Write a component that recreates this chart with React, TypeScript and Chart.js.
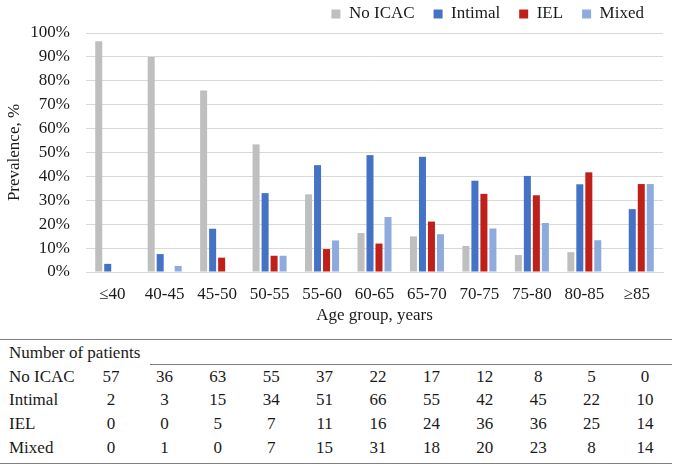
import React, { useEffect, useRef } from "react";
import { Chart, registerables } from "chart.js";

Chart.register(...registerables);

const categories = ["≤40", "40-45", "45-50", "50-55", "55-60", "60-65", "65-70", "70-75", "75-80", "80-85", "≥85"];
const seriesNames = ["No ICAC", "Intimal", "IEL", "Mixed"];
const noIcacPct = [96.6, 90.0, 75.9, 53.4, 32.5, 16.3, 14.9, 10.9, 7.1, 8.3, 0];
const intimalPct = [3.4, 7.5, 18.1, 33.0, 44.7, 48.9, 48.2, 38.2, 40.2, 36.7, 26.3];
const ielPct = [0, 0, 6.0, 6.8, 9.6, 11.9, 21.1, 32.7, 32.1, 41.7, 36.8];
const mixedPct = [0, 2.5, 0, 6.8, 13.2, 23.0, 15.8, 18.2, 20.5, 13.3, 36.8];

const noIcacCount = [57, 36, 63, 55, 37, 22, 17, 12, 8, 5, 0];
const intimalCount = [2, 3, 15, 34, 51, 66, 55, 42, 45, 22, 10];
const ielCount = [0, 0, 5, 7, 11, 16, 24, 36, 36, 25, 14];
const mixedCount = [0, 1, 0, 7, 15, 31, 18, 20, 23, 8, 14];

const tableTitle = "Number of patients";
const yTitle = "Prevalence, %";
const xTitle = "Age group, years";

const colors = ["#bfbfbf", "#4472c4", "#c0201a", "#8faadc"];
const FONT = "'Liberation Serif', Tinos, 'Times New Roman', 'DejaVu Serif', serif";
const TEXT = "#1a1a1a";

export default function App() {
  const ref = useRef<HTMLCanvasElement | null>(null);

  useEffect(() => {
    if (!ref.current) return;
    const values = [noIcacPct, intimalPct, ielPct, mixedPct];
    const legendPlugin = {
      id: "legendTweak",
      beforeInit(chart: any) {
        const lg = chart.legend;
        if (lg) {
          const orig = lg.fit;
          lg.fit = function () {
            orig.call(this);
            this.height = 33;
          };
        }
      },
      afterLayout(chart: any) {
        if (chart.legend) {
          chart.legend.top = -13.5;
        }
      },
    };
    const chart = new Chart(ref.current, {
      type: "bar",
      data: {
        labels: categories,
        datasets: seriesNames.map((n, i) => ({
          label: n,
          data: values[i],
          backgroundColor: colors[i],
          borderWidth: 0,
          categoryPercentage: 0.686,
          barPercentage: 0.78,
        })),
      },
      options: {
        responsive: false,
        animation: false,
        layout: { padding: { left: 0, right: 13, top: 0, bottom: 0 } },
        plugins: {
          legend: {
            position: "top",
            align: "end",
            labels: {
              boxWidth: 9,
              boxHeight: 9,
              padding: 19,
              color: TEXT,
              font: { family: FONT, size: 17 },
            },
          },
          tooltip: { enabled: false },
        },
        scales: {
          x: {
            grid: { display: false, drawTicks: false },
            border: { display: true, color: "#d9d9d9" },
            ticks: { color: TEXT, font: { family: FONT, size: 17 }, padding: 12, maxRotation: 0 },
            title: { display: true, text: xTitle, color: TEXT, font: { family: FONT, size: 17 }, padding: { top: 2, bottom: 4 } },
            afterFit(scale: any) {
              scale.height = 58;
            },
          },
          y: {
            min: 0,
            max: 100,
            grid: { color: "#d9d9d9", drawTicks: false },
            border: { display: false },
            ticks: {
              stepSize: 10,
              color: TEXT,
              font: { family: FONT, size: 17 },
              padding: 16,
              callback: (v: any) => v + "%",
            },
            title: { display: true, text: yTitle, color: TEXT, font: { family: FONT, size: 17 }, padding: { top: 4, bottom: 4 } },
            afterFit(scale: any) {
              scale.width = 86;
            },
          },
        },
      },
      plugins: [legendPlugin],
    });
    return () => chart.destroy();
  }, []);

  const rows: [string, number[]][] = [
    [seriesNames[0], noIcacCount],
    [seriesNames[1], intimalCount],
    [seriesNames[2], ielCount],
    [seriesNames[3], mixedCount],
  ];

  const rowY = (i: number) => 353 + i * 23.7;
  const colX = (j: number) => 111 + j * 53.4;

  return (
    <div
      style={{
        position: "absolute",
        left: 0,
        top: 0,
        width: 676,
        height: 468,
        background: "#fff",
        fontFamily: FONT,
        color: TEXT,
        fontSize: 17,
        overflow: "hidden",
      }}
    >
      <canvas ref={ref} width={676} height={330} style={{ position: "absolute", left: 0, top: 0 }} />
      <div style={{ position: "absolute", left: 0, top: 339, width: 672, height: 1, background: "#808080" }} />
      <div style={{ position: "absolute", left: 150, top: 364, width: 522, height: 1, background: "#808080" }} />
      <div style={{ position: "absolute", left: 0, top: 463, width: 672, height: 1, background: "#808080" }} />
      <div style={{ position: "absolute", left: 9, top: rowY(0) - 11, lineHeight: "22px", whiteSpace: "nowrap" }}>{tableTitle}</div>
      {rows.map(([label, vals], i) => (
        <React.Fragment key={label}>
          <div style={{ position: "absolute", left: 9, top: rowY(i + 1) - 11, lineHeight: "22px", whiteSpace: "nowrap" }}>{label}</div>
          {vals.map((v, j) => (
            <div
              key={j}
              style={{
                position: "absolute",
                left: colX(j) - 25,
                width: 50,
                textAlign: "center",
                top: rowY(i + 1) - 11,
                lineHeight: "22px",
              }}
            >
              {v}
            </div>
          ))}
        </React.Fragment>
      ))}
    </div>
  );
}
